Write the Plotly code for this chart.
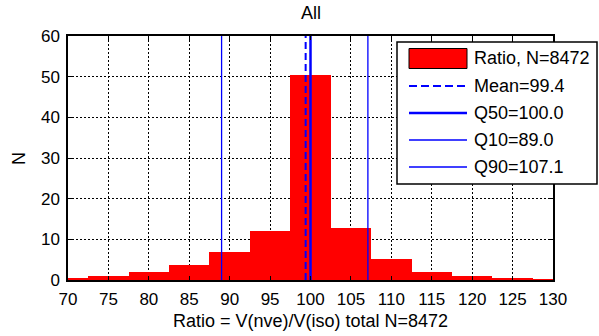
import plotly.graph_objects as go

# Histogram of the ratio V(nve)/V(iso) in percent, bin width 5
bin_centers = [70, 75, 80, 85, 90, 95, 100, 105, 110, 115, 120, 125, 130]
bin_counts = [0.6, 1.0, 2.0, 3.7, 6.8, 12.0, 50.3, 12.8, 5.1, 2.0, 1.0, 0.5, 0.2]
bin_width = 5

n_total = 8472
mean_val = 99.4
q50_val = 100.0
q10_val = 89.0
q90_val = 107.1

x_ticks = [70, 75, 80, 85, 90, 95, 100, 105, 110, 115, 120, 125, 130]
y_ticks = [0, 10, 20, 30, 40, 50, 60]
x_range = [70, 130]
y_range = [0, 60]

FONT = "Liberation Sans, Arial, sans-serif"
BLUE = "#0000ff"
RED = "#ff0000"

# plot area geometry in pixels
FIG_W, FIG_H = 599, 336
L, R, T, B = 68, 553, 36, 280


def px(xp):
    return (xp - L) / (R - L)


def py(yp):
    return (B - yp) / (B - T)


fig = go.Figure()

fig.add_trace(go.Bar(
    x=bin_centers, y=bin_counts, width=bin_width,
    marker=dict(color=RED, line=dict(width=0)),
    showlegend=False,
))

# statistic markers spanning the full y range
stat_lines = [
    (mean_val, 2, "7px,4px", f"Mean={mean_val:.1f}"),
    (q50_val, 2.5, "solid", f"Q50={q50_val:.1f}"),
    (q10_val, 1.3, "solid", f"Q10={q10_val:.1f}"),
    (q90_val, 1.3, "solid", f"Q90={q90_val:.1f}"),
]
for val, lw, dash, _ in stat_lines:
    fig.add_trace(go.Scatter(
        x=[val, val], y=y_range, mode="lines",
        line=dict(color=BLUE, width=lw, dash=dash),
        showlegend=False, hoverinfo="skip",
    ))

shapes = []
annotations = []

# legend box
shapes.append(dict(type="rect", xref="paper", yref="paper",
                   x0=px(397), x1=px(597), y0=py(184), y1=py(42),
                   fillcolor="white", line=dict(color="black", width=1.5),
                   layer="above"))
row0, step = 58.5, 27.0
sw_x0, sw_x1, txt_x = 409, 467, 472
legend_labels = [f"Ratio, N={n_total}"] + [s[3] for s in stat_lines]
for i, label in enumerate(legend_labels):
    yc = row0 + i * step
    if i == 0:
        shapes.append(dict(type="rect", xref="paper", yref="paper",
                           x0=px(sw_x0), x1=px(sw_x1), y0=py(yc + 10), y1=py(yc - 10),
                           fillcolor=RED, line=dict(color="black", width=1),
                           layer="above"))
    else:
        _, lw, dash, _ = stat_lines[i - 1]
        shapes.append(dict(type="line", xref="paper", yref="paper",
                           x0=px(sw_x0), x1=px(sw_x1), y0=py(yc + 0.5), y1=py(yc + 0.5),
                           line=dict(color=BLUE, width=max(lw, 1.5),
                                     dash="8px,4px" if dash != "solid" else "solid"),
                           layer="above"))
    annotations.append(dict(xref="paper", yref="paper", x=px(txt_x), y=py(yc),
                            text=label, showarrow=False, xanchor="left",
                            yanchor="middle", font=dict(size=18, color="black")))

# title and axis labels
annotations.append(dict(xref="paper", yref="paper", x=0.5, y=py(13), text="All",
                        showarrow=False, xanchor="center", yanchor="middle",
                        font=dict(size=18, color="black")))
annotations.append(dict(xref="paper", yref="paper", x=0.5, y=py(321),
                        text=f"Ratio = V(nve)/V(iso) total N={n_total}",
                        showarrow=False, xanchor="center", yanchor="middle",
                        font=dict(size=18, color="black")))
annotations.append(dict(xref="paper", yref="paper", x=px(19), y=py(159), text="N",
                        showarrow=False, xanchor="center", yanchor="middle",
                        textangle=-90, font=dict(size=18, color="black")))

axis_common = dict(
    showline=True, linecolor="black", linewidth=1.5, mirror="ticks",
    ticks="inside", ticklen=4, tickcolor="black", tickwidth=1,
    showgrid=True, gridcolor="black", gridwidth=1, griddash="2px,2px",
    zeroline=False, tickfont=dict(size=17, color="black"),
)

fig.update_layout(
    width=FIG_W, height=FIG_H,
    margin=dict(l=L, r=FIG_W - R, t=T, b=FIG_H - B),
    paper_bgcolor="white", plot_bgcolor="white",
    font=dict(family=FONT, color="black"),
    bargap=0,
    xaxis=dict(range=x_range, tickvals=x_ticks, ticklabelstandoff=3, **axis_common),
    yaxis=dict(range=y_range, tickvals=y_ticks, ticklabelstandoff=3, **axis_common),
    shapes=shapes, annotations=annotations,
)

fig.write_html("out.html")
